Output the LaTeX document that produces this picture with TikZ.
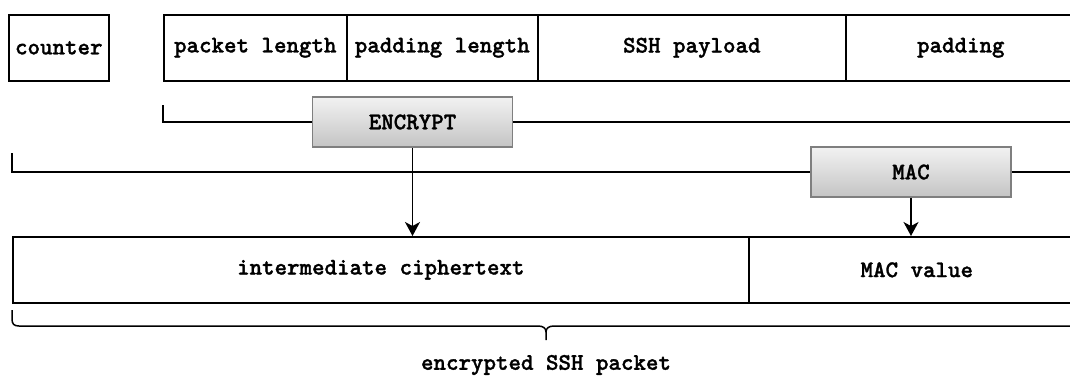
\documentclass[tikz,border=0pt]{standalone}
\usepackage{fontspec}
\newfontfamily\boldtt{lmmonolt10-bold.otf}[FakeBold=1.3]
\usetikzlibrary{arrows.meta}
\definecolor{opborder}{HTML}{7F7F7F}
\definecolor{optop}{HTML}{F2F2F2}
\definecolor{opbot}{HTML}{C4C4C4}
\begin{document}
\begin{tikzpicture}[x=0.5pt,y=-0.5pt, line width=0.75pt,
  every node/.style={font=\fontsize{11.9}{14}\selectfont\boldtt},
  field/.style={draw, line width=0.8pt, minimum height=33pt, inner sep=0pt, anchor=north west},
  opbox/.style={draw=opborder, line width=0.8pt, top color=optop, bottom color=opbot, minimum width=100pt, minimum height=25pt, inner sep=0pt},
  arr/.style={-{Stealth[length=7pt,width=7.5pt,inset=2pt]}}]
\useasboundingbox (0,0) rectangle (1070,381);
\clip (0,0) rectangle (1070,381);
% top row
\node[field, minimum width=50pt] (ctr) at (8,14) {counter};
\node[field, minimum width=91.5pt] (plen) at (163,14) {packet length};
\node[field, minimum width=95.5pt] (padlen) at (346,14) {padding length};
\node[field, minimum width=154pt] (pay) at (537,14) {SSH payload};
\node[field, minimum width=115pt] (pad) at (845,14) {padding};
% operations
\node[opbox] (enc) at (412.5,122) {ENCRYPT};
\node[opbox] (mac) at (911,172) {MAC};
% bottom row
\node[field, minimum width=368pt] (mid) at (12,236) {intermediate ciphertext};
\node[field, minimum width=168pt] (macv) at (748,236) {MAC value};
% bracket lines
\coordinate (b1) at (163,105);
\coordinate (b1e) at (1080,122);
\coordinate (b2) at (12,153);
\coordinate (b2e) at (1080,172);
\draw (b1) |- (enc.west);
\draw (enc.east) -- (b1e);
\draw (b2) |- (mac.west);
\draw (mac.east) -- (b2e);
% arrows
\draw[arr] (enc.south) -- (enc.south |- mid.north);
\draw[arr] (mac.south) -- (mac.south |- macv.north);
% brace
\coordinate (brl) at (12,310);
\coordinate (brtip) at (546,340);
\coordinate (brr) at (1080,310);
\draw (brl) -- (12,319) .. controls (12,324) and (14,326) .. (19,326)
  -- (538,326) .. controls (543,326) and (546,328) .. (546,332) -- (brtip);
\draw (546,332) .. controls (546,328) and (549,326) .. (554,326)
  -- (1073,326) .. controls (1078,326) and (1080,324) .. (1080,319) -- (brr);
\node (lbl) at (546,365) {encrypted SSH packet};
\end{tikzpicture}
\end{document}
